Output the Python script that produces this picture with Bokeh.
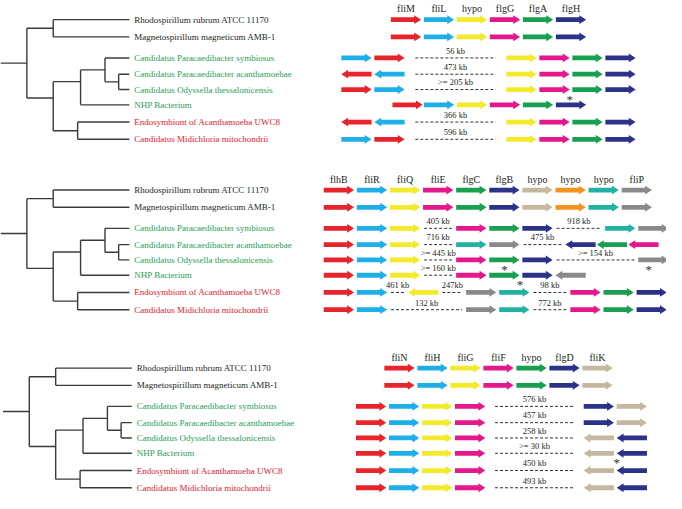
import numpy as np
from bokeh.plotting import figure
from bokeh.models import Range1d, ColumnDataSource
from bokeh.core.properties import value
from bokeh.embed import file_html
from bokeh.resources import INLINE

# ---------------- data ----------------
SPECIES = [
    "Rhodospirillum rubrum ATCC 11170",
    "Magnetospirillum magneticum AMB-1",
    "Candidatus Paracaedibacter symbiosus",
    "Candidatus Paracaedibacter acanthamoebae",
    "Candidatus Odyssella thessalonicensis",
    "NHP Bacterium",
    "Endosymbiont of Acanthamoeba UWC8",
    "Candidatus Midichloria mitochondrii",
]
SPECIES_GROUP = [0, 0, 1, 1, 1, 1, 2, 2]

# phylogeny (leaf = species index)
TREE = ("root", [("A", [0, 1]),
                 ("B", [("G", [("P", [2, ("Q", [3, 4])]), 5]),
                        ("D", [6, 7])])])

# panel 1 : fliM ... flgH
P1_GENE_IDS = ["fliM", "fliL", "hypo", "flgG", "flgA", "flgH"]
P1_GENE_LABELS = ["fliM", "fliL", "hypo", "flgG", "flgA", "flgH"]
P1_ROWS = [
    ["fliM>", "fliL>", "hypo>", "flgG>", "flgA>", "flgH>"],
    ["fliM>", "fliL>", "hypo>", "flgG>", "flgA>", "flgH>"],
    ["fliL>", "fliM>", "56 kb", "hypo>", "flgG>", "flgA>", "flgH>"],
    ["<fliM", "<fliL", "473 kb", "hypo>", "flgG>", "flgA>", "flgH>"],
    ["fliM>", "fliL>", ">= 205 kb", "hypo>", "flgG>", "flgA>", "flgH>"],
    ["fliM>", "fliL>", "hypo>", "flgG>", "flgA>", "flgH>"],
    ["<fliM", "<fliL", "366 kb", "hypo>", "flgG>", "flgA>", "flgH>"],
    ["fliL>", "fliM>", "596 kb", "hypo>", "flgG>", "flgA>", "flgH>"],
]
P1_STARS = [(4, 6.92)]

# panel 2 : flhB ... fliP
P2_GENE_IDS = ["flhB", "fliR", "fliQ", "fliE", "flgC", "flgB", "hypo1", "hypo2", "hypo3", "fliP"]
P2_GENE_LABELS = ["flhB", "fliR", "fliQ", "fliE", "flgC", "flgB", "hypo", "hypo", "hypo", "fliP"]
P2_ROWS = [
    ["flhB>", "fliR>", "fliQ>", "fliE>", "flgC>", "flgB>", "hypo1>", "hypo2>", "hypo3>", "fliP>"],
    ["flhB>", "fliR>", "fliQ>", "fliE>", "flgC>", "flgB>", "hypo1>", "hypo2>", "hypo3>", "fliP>"],
    ["flhB>", "fliR>", "fliQ>", "405 kb", "fliE>", "flgC>", "flgB>", "918 kb", "hypo3>", "fliP>"],
    ["flhB>", "fliR>", "fliQ>", "716 kb", "hypo3>", "fliP>", "475 kb", "<flgB", "<flgC", "<fliE"],
    ["flhB>", "fliR>", "fliQ>", ">= 445 kb", "fliE>", "flgC>", "flgB>", ">= 154 kb", "fliP>"],
    ["flhB>", "fliR>", "fliQ>", ">= 160 kb", "fliE>", "flgC>", "flgB>", "<fliP"],
    ["flhB>", "fliR>", "461 kb", "<fliQ", "247kb", "fliP>", "hypo3>", "98 kb", "fliE>", "flgC>", "flgB>"],
    ["flhB>", "fliR>", "132 kb", "fliP>", "hypo3>", "772 kb", "fliE>", "flgC>", "flgB>"],
]
P2_STARS = [(4, 5.46), (4, 9.82), (5, 5.93)]

# panel 3 : fliN ... fliK
P3_GENE_IDS = ["fliN", "fliH", "fliG", "fliF", "hypo", "flgD", "fliK"]
P3_GENE_LABELS = ["fliN", "fliH", "fliG", "fliF", "hypo", "flgD", "fliK"]
P3_ROWS = [
    ["fliN>", "fliH>", "fliG>", "fliF>", "hypo>", "flgD>", "fliK>"],
    ["fliN>", "fliH>", "fliG>", "fliF>", "hypo>", "flgD>", "fliK>"],
    ["fliN>", "fliH>", "fliG>", "fliF>", "576 kb", "flgD>", "fliK>"],
    ["fliN>", "fliH>", "fliG>", "fliF>", "457 kb", "flgD>", "fliK>"],
    ["fliN>", "fliH>", "fliG>", "fliF>", "258 kb", "<fliK", "<flgD"],
    ["fliN>", "fliH>", "fliG>", "fliF>", ">= 30 kb", "<fliK", "<flgD"],
    ["fliN>", "fliH>", "fliG>", "fliF>", "450 kb", "<fliK", "<flgD"],
    ["fliN>", "fliH>", "fliG>", "fliF>", "493 kb", "<fliK", "<flgD"],
]
P3_STARS = [(5, 7.9)]

# ---------------- layout / style ----------------
RED, CYAN, YELLOW, MAGENTA = "#e8232a", "#1eaee8", "#f4ea2c", "#e5178a"
GREEN, NAVY, TAN, ORANGE, TEAL, GRAY = "#16a04f", "#2b3289", "#c4b89e", "#f6921e", "#22b2a4", "#8a8a8a"
P1_COLORS = [RED, CYAN, YELLOW, MAGENTA, GREEN, NAVY]
P2_COLORS = [RED, CYAN, YELLOW, MAGENTA, GREEN, NAVY, TAN, ORANGE, TEAL, GRAY]
P3_COLORS = [RED, CYAN, YELLOW, MAGENTA, GREEN, NAVY, TAN]
GROUP_TEXT_COLORS = ["#231f20", "#1f9e55", "#e3202a"]

# gene column layout per row (grid units)
P1_COLS = [[1.5, 2.5, 3.5, 4.5, 5.5, 6.5]] * 2 + [[0, 1, 5, 6, 7, 8]] * 3 + \
          [[1.55, 2.5, 3.5, 4.5, 5.5, 6.5]] + [[0, 1, 5, 6, 7, 8]] * 2
P2_COLS = [list(range(10))] * 2 + [
    [0, 1, 2, 4, 5, 6, 8.5, 9.5],
    [0, 1, 2, 4, 5, 7.3, 8.25, 9.2],
    [0, 1, 2, 4, 5, 6, 9.5],
    [0, 1, 2, 4, 5, 6, 7],
    [0, 1, 2.55, 4.3, 5.3, 7.45, 8.45, 9.45],
    [0, 1, 4.3, 5.3, 7.45, 8.45, 9.45],
]
P3_COLS = [[0.86, 1.86, 2.86, 3.86, 4.86, 5.86, 6.86]] * 2 + [[0, 1, 2, 3, 6.9, 7.9]] * 6

PANELS = [
    dict(ids=P1_GENE_IDS, labels=P1_GENE_LABELS, colors=P1_COLORS, rows=P1_ROWS, cols=P1_COLS,
         stars=P1_STARS, top=15, origin=349, pitch=33.8, inset=11, tree_dx=0),
    dict(ids=P2_GENE_IDS, labels=P2_GENE_LABELS, colors=P2_COLORS, rows=P2_ROWS, cols=P2_COLS,
         stars=P2_STARS, top=193, origin=331, pitch=33.9, inset=4, tree_dx=0),
    dict(ids=P3_GENE_IDS, labels=P3_GENE_LABELS, colors=P3_COLORS, rows=P3_ROWS, cols=P3_COLS,
         stars=P3_STARS, top=379, origin=364, pitch=33.8, inset=10, tree_dx=2.5),
]
ROW_DY = [0, 18, 40, 57, 73, 89, 107, 125]
NODE_X = {"root": 27, "A": 54, "B": 54, "G": 82, "P": 107, "Q": 121, "D": 79}
LEAF_X, STEM_X = 132, 0
LEAF_MEAN_NODES = {"G", "B"}
ARROW_L, BODY_H, HEAD_H, HEAD_L = 31, 2.5, 4.6, 7

FONT = value("Liberation Serif")

p = figure(width=666, height=493, x_range=Range1d(0, 682), y_range=Range1d(510, -5),
           output_backend="svg", toolbar_location=None, min_border=0,
           x_axis_location=None, y_axis_location=None)
p.xgrid.visible = False
p.ygrid.visible = False
p.outline_line_color = None


def arrow_shape(x0, yc, strand):
    L = ARROW_L
    if strand > 0:
        xs = [x0, x0 + L - HEAD_L, x0 + L - HEAD_L, x0 + L, x0 + L - HEAD_L, x0 + L - HEAD_L, x0]
    else:
        xs = [x0 + L, x0 + HEAD_L, x0 + HEAD_L, x0, x0 + HEAD_L, x0 + HEAD_L, x0 + L]
    ys = [yc - BODY_H, yc - BODY_H, yc - HEAD_H, yc, yc + HEAD_H, yc + BODY_H, yc + BODY_H]
    return xs, ys


arr = dict(xs=[], ys=[], c=[])
dash = dict(x0=[], y0=[], x1=[], y1=[])
kb = dict(x=[], y=[], t=[])
hdr = dict(x=[], y=[], t=[])
star = dict(x=[], y=[])
tree = dict(x0=[], y0=[], x1=[], y1=[])
spc = dict(x=[], y=[], t=[], c=[])

for P in PANELS:
    row_y = [P["top"] + d for d in ROW_DY]
    cmap = dict(zip(P["ids"], P["colors"]))
    lmap = dict(zip(P["ids"], P["labels"]))
    for ri, (row, cols) in enumerate(zip(P["rows"], P["cols"])):
        yc = row_y[ri]
        ci = 0
        prev_end = None
        pending = None
        for tok in row:
            if "kb" in tok:
                pending = tok
                continue
            if tok.endswith(">"):
                gid, strand = tok[:-1], 1
            else:
                gid, strand = tok[1:], -1
            x0 = P["origin"] + cols[ci] * P["pitch"]
            ci += 1
            if pending is not None:
                a, b = prev_end + P["inset"], x0 - P["inset"]
                dash["x0"].append(a); dash["x1"].append(b)
                dash["y0"].append(yc); dash["y1"].append(yc)
                kb["x"].append((a + b) / 2); kb["y"].append(yc - 7.5); kb["t"].append(pending)
                pending = None
            xs, ys = arrow_shape(x0, yc, strand)
            arr["xs"].append(xs); arr["ys"].append(ys); arr["c"].append(cmap[gid])
            if ri == 0:
                hdr["x"].append(x0 + ARROW_L / 2); hdr["y"].append(yc - 11.5); hdr["t"].append(lmap[gid])
            prev_end = x0 + ARROW_L
    for ri, col in P["stars"]:
        star["x"].append(P["origin"] + col * P["pitch"])
        star["y"].append(row_y[ri] + 10)

    dx = P["tree_dx"]

    def walk(node):
        if isinstance(node, int):
            return LEAF_X + dx, row_y[node], [node]
        name, children = node
        res = [walk(c) for c in children]
        cys = [r[1] for r in res]
        leaves = sum((r[2] for r in res), [])
        if name in LEAF_MEAN_NODES:
            y = float(np.mean([row_y[i] for i in leaves]))
        else:
            y = (cys[0] + cys[-1]) / 2
        x = NODE_X[name] + dx
        tree["x0"].append(x); tree["x1"].append(x); tree["y0"].append(cys[0]); tree["y1"].append(cys[-1])
        for cx, cy, _ in res:
            tree["x0"].append(x); tree["x1"].append(cx); tree["y0"].append(cy); tree["y1"].append(cy)
        return x, y, leaves

    rx, ry, _ = walk(TREE)
    tree["x0"].append(STEM_X + dx); tree["x1"].append(rx); tree["y0"].append(ry); tree["y1"].append(ry)
    for i, name in enumerate(SPECIES):
        spc["x"].append(LEAF_X + dx + 5); spc["y"].append(row_y[i]); spc["t"].append(name)
        spc["c"].append(GROUP_TEXT_COLORS[SPECIES_GROUP[i]])

p.segment("x0", "y0", "x1", "y1", source=ColumnDataSource(tree), line_color="#3b3b3b", line_width=1.4)
p.segment("x0", "y0", "x1", "y1", source=ColumnDataSource(dash), line_color="#333333", line_width=1,
          line_dash="3 2")
p.patches("xs", "ys", source=ColumnDataSource(arr), fill_color="c", line_color=None)
p.text("x", "y", "t", source=ColumnDataSource(spc), text_color="c", text_font=FONT,
       text_font_size=value("9px"), text_baseline="middle", text_align="left")
p.text("x", "y", "t", source=ColumnDataSource(hdr), text_color="#231f20", text_font=FONT,
       text_font_size=value("10px"), text_baseline="middle", text_align="center")
p.text("x", "y", "t", source=ColumnDataSource(kb), text_color="#231f20", text_font=FONT,
       text_font_size=value("8.5px"), text_baseline="middle", text_align="center")
p.text("x", "y", text=value("*"), source=ColumnDataSource(star), text_color="#333333", text_font=FONT,
       text_font_size=value("13px"), text_baseline="middle", text_align="center")

open("out.html", "w").write(file_html(p, INLINE))
